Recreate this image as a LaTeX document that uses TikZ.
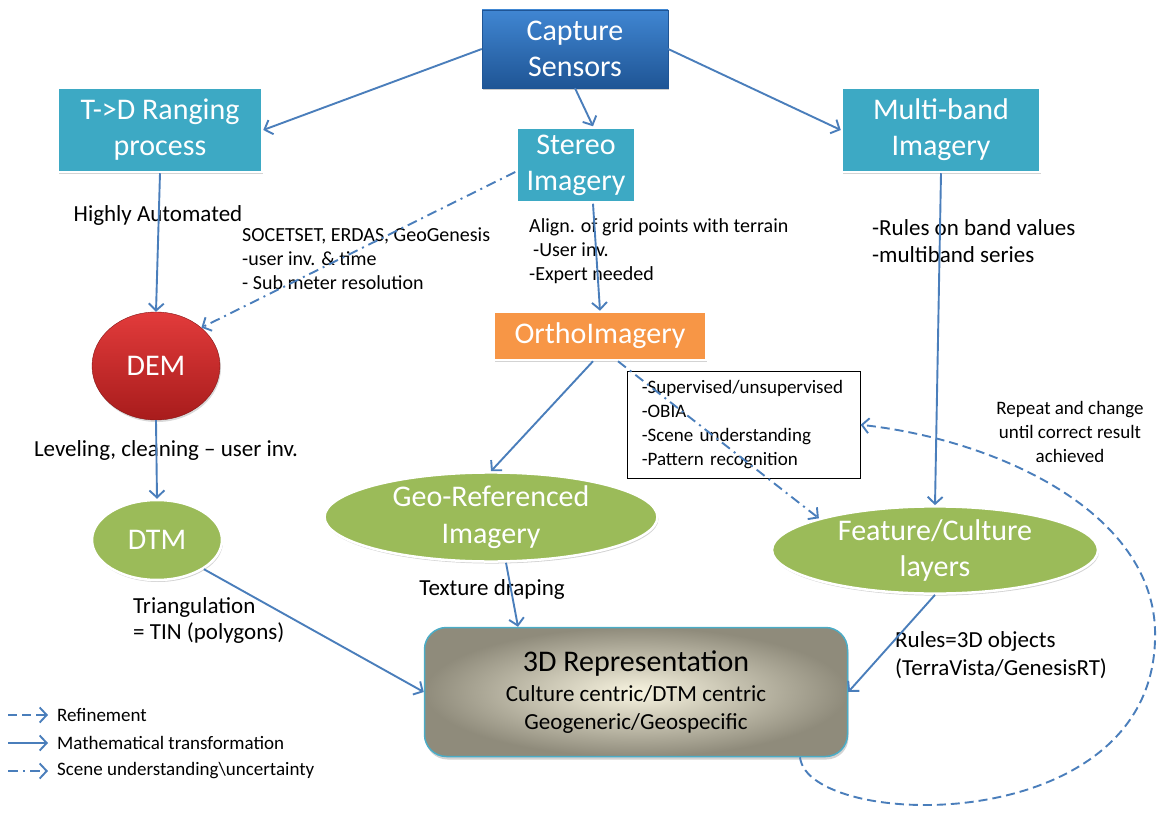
\documentclass[tikz,border=0pt]{standalone}
\usepackage{fontspec}
\setmainfont{Carlito}
\usepackage{tikz}
\usetikzlibrary{arrows.meta, positioning, shapes.geometric, shadows}
\definecolor{arrowblue}{HTML}{4A7EBB}
\definecolor{tealbox}{HTML}{3DA9C4}
\definecolor{greenell}{HTML}{9BBB59}
\definecolor{orangebox}{HTML}{F79646}
\definecolor{capdark}{HTML}{1F5595}
\definecolor{caplight}{HTML}{4086D2}
\definecolor{demlight}{HTML}{E23B3B}
\definecolor{demdark}{HTML}{A81C1C}
\definecolor{repouter}{HTML}{8F8B7B}
\definecolor{repinner}{HTML}{F8F4E0}
\definecolor{repborder}{HTML}{4BACC6}

\begin{document}
\begin{tikzpicture}[x=1pt, y=-1pt,
	big/.style={font=\fontsize{30}{36}\selectfont},
	mid/.style={font=\fontsize{23}{26}\selectfont},
	small/.style={font=\fontsize{20}{24}\selectfont},
	tiny/.style={font=\fontsize{19}{24}\selectfont},
	tealnode/.style={rectangle, draw=white, line width=2.5pt, fill=tealbox, text=white, align=center, inner sep=0pt, big, drop shadow={opacity=0.35, shadow xshift=1pt, shadow yshift=-2pt}},
	greennode/.style={ellipse, draw=white, line width=2.5pt, fill=greenell, text=white, align=center, inner sep=0pt, big, drop shadow={opacity=0.35, shadow xshift=1pt, shadow yshift=-2pt}},
	trans/.style={draw=arrowblue, line width=1.9pt, -{Straight Barb[length=7pt, width=15pt, line width=1.9pt]}},
	refine/.style={trans, dash pattern=on 9pt off 5pt},
	scene/.style={trans, dash pattern=on 10pt off 5pt on 2pt off 5pt},
	]
	\useasboundingbox (0,0) rectangle (1157,813);

	% boxes
	\node[rectangle, draw=capdark, top color=caplight, bottom color=capdark, text=white, align=center, inner sep=0pt, big,
		minimum width=186pt, minimum height=78pt, drop shadow={opacity=0.4, shadow xshift=1pt, shadow yshift=-2pt}]
		(cap) at (575,49) {Capture\\Sensors};
	\node[tealnode, minimum width=204pt, minimum height=84pt] (tdr) at (160,130) {T->D Ranging\\process};
	\node[tealnode, minimum width=119pt, minimum height=75pt] (stereo) at (576,165) {Stereo\\Imagery};
	\node[tealnode, minimum width=198pt, minimum height=84pt] (mb) at (941,130) {Multi-band\\Imagery};
	\node[tealnode, fill=orangebox, minimum width=212pt, minimum height=48pt] (ortho) at (600,336) {OrthoImagery};
	\node[ellipse, draw=demdark!80!black, top color=demlight, bottom color=demdark, text=white, inner sep=0pt, big,
		minimum width=128pt, minimum height=108pt, drop shadow={opacity=0.3, shadow xshift=1pt, shadow yshift=-2pt}]
		(dem) at (156,366) {DEM};
	\node[greennode, minimum width=130pt, minimum height=80pt] (dtm) at (157,540) {DTM};
	\node[greennode, minimum width=333pt, minimum height=87pt, font=\fontsize{30}{37}\selectfont] (geo) at (491,517) {Geo-Referenced\\Imagery};
	\node[greennode, minimum width=326pt, minimum height=80pt] (feat) at (935,550) {Feature/Culture\\layers};
	\node[rectangle, draw=black, line width=0.6pt, fill=white, align=left, anchor=north west, inner sep=0pt,
		minimum width=233pt, minimum height=107pt, text width=222pt, tiny]
		(cls) at (627,371) {\hspace*{9pt}-Supervised/unsupervised\\\hspace*{9pt}-OBIA\\\hspace*{9pt}-Scene understanding\\\hspace*{9pt}-Pattern recognition};
	\node[rectangle, rounded corners=22pt, draw=repborder, line width=1.5pt, inner color=repinner, outer color=repouter,
		align=center, inner sep=0pt, minimum width=423pt, minimum height=129pt, font=\fontsize{23}{28}\selectfont,
		drop shadow={opacity=0.35, shadow xshift=1pt, shadow yshift=-3pt}]
		(rep) at (636,692) {{\fontsize{30}{34}\selectfont 3D Representation}\\[2pt]
		Culture centric/DTM centric\\Geogeneric/Geospecific};

	% labels
	\node[mid] (lauto) at (158,215) {Highly Automated};
	\node[small, align=left, anchor=north west, inner sep=0pt] (lsoc) at (242,228) {SOCETSET, ERDAS, GeoGenesis\\-user inv. \& time\\- Sub meter resolution};
	\node[small, align=left, anchor=north west, inner sep=0pt] (lalign) at (529,218) {Align. of grid points with terrain\\\hspace*{4pt}-User inv.\\-Expert needed};
	\node[font=\fontsize{23}{27}\selectfont, align=left, anchor=north west, inner sep=0pt] (lrules) at (872,219) {-Rules on band values\\-multiband series};
	\node[mid] (llevel) at (166,450) {Leveling, cleaning -- user inv.};
	\node[mid, align=left, anchor=north west, inner sep=0pt] (ltri) at (133,597) {Triangulation\\= TIN (polygons)};
	\node[mid] (ltex) at (492,589) {Texture draping};
	\node[font=\fontsize{23}{28}\selectfont, align=left, anchor=north west, inner sep=0pt] (l3d) at (895,631) {Rules=3D objects\\(TerraVista/GenesisRT)};
	\node[tiny, align=center] (lrep) at (1070,432) {Repeat and change\\until correct result\\achieved};

	% connectors
	\draw[trans] (cap.west) -- (tdr.east);
	\draw[trans] (cap.south) -- ([xshift=17pt]stereo.north);
	\draw[trans] (cap.east) -- (mb.west);
	\draw[trans] (tdr.south) -- (dem.north);
	\draw[scene] ([yshift=-7pt]stereo.west) -- (dem.north east);
	\draw[trans] ([xshift=17pt]stereo.south) -- (ortho.north);
	\draw[trans] ([xshift=-7pt]ortho.south) -- (geo.north);
	\draw[scene] ([xshift=18pt]ortho.south) -- (feat.north west);
	\draw[trans] (mb.south) -- (feat.north);
	\draw[trans] (dem.south) -- (dtm.north);
	\draw[trans] (dtm.south east) -- (rep.west);
	\draw[trans] ([xshift=15pt]geo.south) -- ([xshift=-118pt]rep.north);
	\draw[trans] (feat.south) -- (rep.east);
	\draw[refine] ([xshift=164pt]rep.south) .. controls (808,830) and (1150,840) .. (1155,640)
		.. controls (1160,515) and (1000,440) .. (cls.east);

	% legend
	\coordinate (r1) at (8,715); \coordinate (r2) at (48,715);
	\coordinate (m1) at (8,743); \coordinate (m2) at (48,743);
	\coordinate (s1) at (8,771); \coordinate (s2) at (48,771);
	\draw[refine] (r1) -- (r2);
	\draw[trans] (m1) -- (m2);
	\draw[scene] (s1) -- (s2);
	\node[tiny, anchor=west, inner sep=0pt] (lgr) at (57,715) {Refinement};
	\node[tiny, anchor=west, inner sep=0pt] (lgm) at (57,743) {Mathematical transformation};
	\node[tiny, anchor=west, inner sep=0pt] (lgs) at (57,771) {Scene understanding\textbackslash uncertainty};
\end{tikzpicture}
\end{document}
